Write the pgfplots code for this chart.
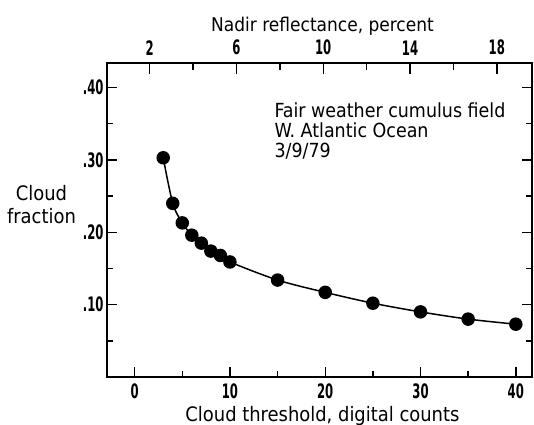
\documentclass[border=0pt]{standalone}
\usepackage{fontspec}
\setmainfont{DejaVu Sans Condensed}
\newfontfamily\tickfont[FakeStretch=0.65]{DejaVu Sans Condensed}
\usepackage{pgfplots}
\pgfplotsset{compat=1.18}

\pgfplotstableread{
count frac
3  0.303
4  0.240
5  0.213
6  0.196
7  0.185
8  0.174
9  0.168
10 0.159
15 0.134
20 0.117
25 0.102
30 0.090
35 0.080
40 0.073
}\clouddata

\pgfplotsset{
  framestyle/.style={
    scale only axis, width=425bp, height=314bp,
    axis line style={line width=1.4bp},
    tick style={line width=1.4bp, black},
    tick align=inside,
    /pgf/number format/assume math mode=true,
    tick label style={font=\fontsize{20}{20}\selectfont\tickfont\bfseries},
  }
}

\begin{document}
\begin{tikzpicture}
\begin{axis}[
  framestyle,
  xmin=-2.9, xmax=41.7, ymin=0, ymax=0.434,
  xtick={0,10,20,30,40}, minor xtick={5,15,25,35},
  ytick={0.1,0.2,0.3,0.4}, yticklabels={.10,.20,.30,.40},
  minor ytick={0.05,0.15,0.25,0.35},
  xtick pos=bottom, ytick pos=both, yticklabel pos=left,
  major tick length=10bp, minor tick length=6bp,
  xticklabel style={yshift=-3.3bp},
  xlabel={Cloud threshold, digital counts},
  xlabel style={font=\fontsize{20}{22}\selectfont, at={(rel axis cs:0.507,0)}, anchor=base, yshift=-44.7bp},
  ylabel={Cloud\\fraction},
  ylabel style={font=\fontsize{20}{23}\selectfont, rotate=-90, align=center,
    at={(rel axis cs:0,0.4904)}, anchor=base, xshift=-65.5bp},
]
\addplot[black, line width=1.5bp, smooth, tension=0.5,
  mark=*, mark size=6bp, mark options={fill=black}]
  table[x=count, y=frac] {\clouddata};
% base anchor of a multi-line node is the baseline of its last line
\node[anchor=base west, inner sep=0pt, align=left, font=\fontsize{19.5}{20.5}\selectfont]
  at (axis cs:14.66,0.3027) {Fair weather cumulus field\\W. Atlantic Ocean\\3/9/79};
\coordinate (SW) at (rel axis cs:0,0);
\coordinate (NE) at (rel axis cs:1,1);
\end{axis}
\begin{axis}[
  framestyle,
  xmin=0.037, xmax=19.62, ymin=0, ymax=1,
  ytick=\empty,
  xtick={2,6,10,14,18}, minor xtick={4,8,12,16},
  xtick pos=top, xticklabel pos=top,
  major tick length=11bp, minor tick length=7bp,
  xticklabel style={yshift=4.3bp},
  xlabel={Nadir reflectance, percent},
  xlabel style={font=\fontsize{19}{21}\selectfont, at={(rel axis cs:0.507,1)}, anchor=base, yshift=31bp},
]
\end{axis}
\pgfresetboundingbox
\path ([shift={(-107bp,-48bp)}]SW) rectangle ([shift={(2bp,63bp)}]NE);
\end{tikzpicture}
\end{document}
